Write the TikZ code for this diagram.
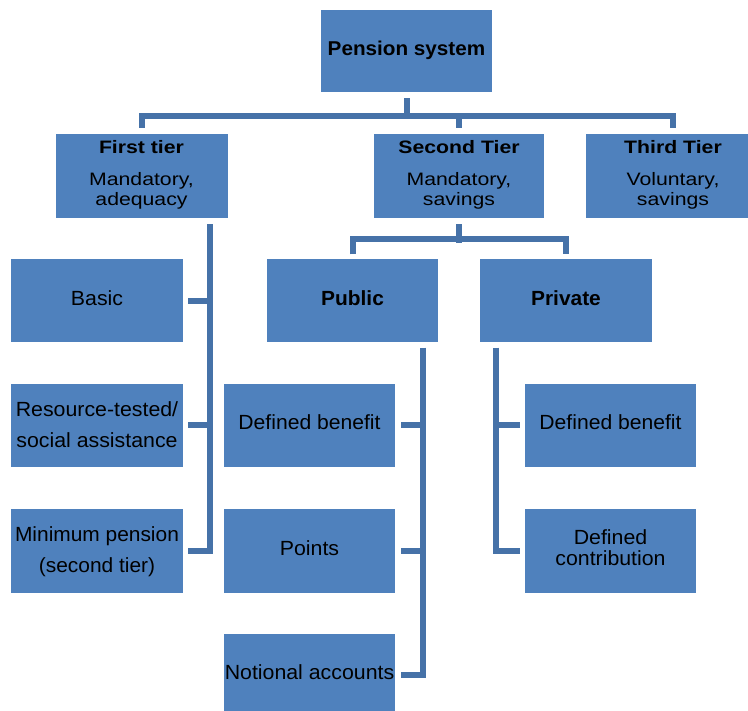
\documentclass[tikz,border=0pt]{standalone}
\usepackage{graphicx}
\usepackage{fontspec}
\setmainfont{Liberation Sans}
\usetikzlibrary{calc}
\definecolor{boxblue}{HTML}{4F81BD}
\definecolor{lineblue}{HTML}{4672A8}
\newcommand{\bxt}[2]{\scalebox{#1}[1]{\begin{tabular}{@{}c@{}}#2\end{tabular}}}
\begin{document}
\begin{tikzpicture}[x=1pt,y=-1pt,
  box/.style={rectangle, fill=boxblue, minimum width=172pt, minimum height=83pt, inner sep=0pt, text=black, font=\fontsize{20.5}{21}\selectfont},
  tier/.style={box, minimum height=84pt, font=\fontsize{18}{20}\selectfont},
  wide/.style={font=\fontsize{20.5}{31}\selectfont},
  conn/.style={draw=lineblue, line width=6pt, line cap=butt, line join=miter}]
\useasboundingbox (0,0) rectangle (748,711);
\clip (0,0) rectangle (748,711);
\fill[white] (0,0) rectangle (748,711);

% nodes
\node[box, minimum width=171pt, minimum height=82pt] (top) at (406.5,51) {\bxt{1.035}{\fontsize{20}{21}\selectfont\bfseries Pension system}};
\node[tier] (first) at (141.5,176) {\bxt{1.18}{\textbf{First tier}\\[12pt]Mandatory,\\adequacy}};
\node[tier, minimum width=170pt] (second) at (459,176) {\bxt{1.18}{\textbf{Second Tier}\\[12pt]Mandatory,\\savings}};
\node[tier, minimum width=174pt] (third) at (673,176) {\bxt{1.18}{\textbf{Third Tier}\\[12pt]Voluntary,\\savings}};

\node[box] (basic) at (97,301) {\bxt{1.04}{Basic}};
\node[box, minimum width=171pt] (public) at (352.5,301) {\bxt{1.02}{\bfseries Public}};
\node[box] (private) at (566,301) {\bxt{1.02}{\bfseries Private}};

\node[box, wide] (resource) at (97,425.5) {\bxt{1.04}{Resource-tested/\\social assistance}};
\node[box, minimum width=171pt] (dbpub) at (309.5,425.5) {\bxt{1.03}{Defined benefit}};
\node[box, minimum width=171pt] (dbpriv) at (610.5,425.5) {\bxt{1.03}{Defined benefit}};

\node[box, wide] (minimum) at (97,551) {\bxt{1.02}{Minimum pension\\(second tier)}};
\node[box, minimum width=171pt] (points) at (309.5,551) {\bxt{1.04}{Points}};
\node[box, minimum width=171pt] (dc) at (610.5,551) {\bxt{1.04}{Defined\\contribution}};

\node[box, minimum width=171pt] (notional) at (309.5,675) {\bxt{1.04}{Notional accounts}};

% top level connectors
\draw[conn] ($(top.south)+(0,6)$) -- ($(top.south)+(0,26.5)$);
\draw[conn] ($(first.north)+(0,-6)$) |- ($(third.north)+(0,-18)$) -- ($(third.north)+(0,-6)$);
\draw[conn] ($(second.north)+(0,-6)$) -- ($(second.north)+(0,-21)$);

% second tier to public / private
\draw[conn] ($(second.south)+(0,6)$) -- ($(second.south)+(0,25)$);
\draw[conn] ($(public.north)+(0,-5)$) |- ($(private.north)+(0,-20)$) -- ($(private.north)+(0,-5)$);

% first tier spine
\coordinate (fs) at ($(first.south east)+(-18,6)$);
\draw[conn] (fs) |- ($(minimum.east)+(5,0)$);
\draw[conn] ($(basic.east)+(5,0)$) -- (basic.east -| fs);
\draw[conn] ($(resource.east)+(5,0)$) -- (resource.east -| fs);

% public spine
\coordinate (ps) at ($(public.south east)+(-15,5)$);
\draw[conn] (ps) |- ($(notional.east)+(6,0)$);
\draw[conn] ($(dbpub.east)+(6,0)$) -- (dbpub.east -| ps);
\draw[conn] ($(points.east)+(6,0)$) -- (points.east -| ps);

% private spine
\coordinate (rs) at ($(private.south west)+(16,5)$);
\draw[conn] (rs) |- ($(dc.west)+(-5,0)$);
\draw[conn] ($(dbpriv.west)+(-5,0)$) -- (dbpriv.west -| rs);
\end{tikzpicture}
\end{document}
